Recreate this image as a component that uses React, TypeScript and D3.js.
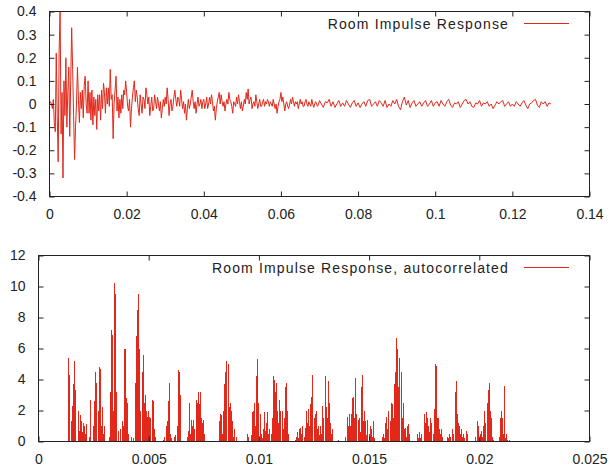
import React, { useRef, useEffect } from 'react';
import * as d3 from 'd3';

// sample periods of the recordings (seconds)
const FINE_DT = 0.00025;
const MID_START = 0.02;
const TAIL_START = 0.07;
const TAIL_DT = 0.0005;
const ACF_START = 0.0013;
const ACF_DT = 0.00005;

// impulse response, first 20 ms
const irEarly = [
  0, 0.01, 0, -0.02, 0.02, -0.08, -0.12, 0.22, -0.05, -0.25,
  0.23, 0.41, -0.13, 0.05, -0.32, 0.1, -0.05, 0.2, -0.1, 0.05,
  0.16, -0.14, 0.1, 0.33, 0.15, -0.05, -0.24, -0.1, 0, 0.16,
  0.02, -0.08, 0.05, -0.02, 0.06, -0.06, 0.08, 0.12, 0, -0.04,
  0.1, -0.04, 0.05, -0.07, 0.06, -0.09, 0.03, -0.05, 0.02, -0.11,
  0.04, -0.03, 0.04, -0.07, 0.06, -0.02, 0.09, 0.05, -0.04, 0.07,
  0, 0.07, -0.01, 0.15, 0.02, 0.04, -0.15, 0, 0.06, 0.12,
  -0.03, 0.03, -0.06, 0.02, -0.04, 0.04, -0.02, 0.06, 0.04, 0.1,
];

// impulse response, 20 ms to 70 ms
const irMid = [
  0.05, -0.01, -0.03, 0.02, -0.1, -0.02, 0.03, 0.07, 0.1, 0.01,
  0.06, 0.03, -0.02, -0.05, 0.04, 0, -0.04, 0.03, 0.02, -0.02,
  0.07, 0.04, 0, 0.03, -0.05, -0.01, 0.03, -0.03, -0.02, 0.04,
  0.01, -0.02, 0.03, 0, -0.03, 0.01, -0.06, -0.02, 0.02, -0.01,
  0.03, 0, 0.07, 0.02, -0.05, 0, 0.02, -0.03, -0.01, 0.03,
  0.06, 0.02, -0.01, 0.03, 0.02, -0.01, 0.06, 0.02, -0.02, 0.01,
  -0.04, 0, -0.07, -0.02, 0.02, -0.02, 0, 0.03, 0.06, 0.01,
  -0.02, 0.01, -0.04, 0, 0.03, -0.01, 0, 0.02, -0.02, 0.01,
  0.02, -0.02, 0, 0.03, -0.02, 0, 0.03, 0, 0.04, 0.01,
  -0.03, -0.01, -0.07, -0.02, 0.01, 0.03, 0.05, 0, 0.04, 0.01,
  -0.01, 0.01, -0.03, 0, 0.02, 0, 0.05, 0.02, 0.01, -0.01,
  -0.04, 0.01, 0, -0.01, 0.03, 0, 0.04, 0.01, -0.02, 0.01,
  -0.03, -0.01, 0.02, 0, 0.05, 0.02, 0.065, 0, 0.02, 0.03,
  -0.02, 0, 0.01, -0.01, 0.04, 0.01, -0.02, 0, 0.02, -0.01,
  -0.01, 0.01, 0.02, -0.01, 0.01, 0, 0.02, 0.01, -0.01, 0.01,
  0, -0.01, 0.02, 0, -0.02, 0, -0.04, -0.01, 0.01, 0.02,
  0.05, 0.01, 0.03, 0, -0.03, 0, 0.01, -0.01, -0.02, 0,
  0.02, 0, 0.03, 0.01, -0.01, 0.01, 0, 0.01, -0.02, 0,
  0.02, 0, 0.01, -0.01, -0.01, 0.01, 0.02, 0, -0.01, 0.01,
  0, -0.01, 0.02, 0, -0.015, 0, 0.01, 0, -0.01, 0,
];

// impulse response, 70 ms to 130 ms
const irTail = [
  0.015, 0, -0.015, 0.01, 0.005, 0.02, -0.01, 0.01, -0.015, 0,
  0.015, -0.01, 0.005, -0.01, 0.015, 0, -0.015, 0.005, 0.015, -0.01,
  0.005, -0.015, 0, 0.01, -0.01, 0.015, 0.02, -0.01, 0, 0.01,
  -0.01, 0.015, 0.005, -0.01, 0.015, -0.015, 0, -0.01, 0.015, 0,
  0.02, -0.01, -0.025, 0.01, 0.03, -0.005, 0.015, -0.015, 0.005, 0.015,
  -0.01, 0, 0.01, -0.01, 0.005, 0.015, -0.01, 0, 0.015, -0.01,
  0.005, 0.01, -0.01, 0.015, 0, -0.01, 0.01, 0.02, -0.005, -0.015,
  0.005, 0, 0.01, -0.015, 0, 0.015, 0.02, 0, 0.01, -0.01,
  -0.015, 0.005, 0, 0.015, -0.01, 0.005, 0, 0.01, -0.01, 0,
  -0.02, -0.005, 0.01, 0, 0.01, 0.015, -0.01, 0, 0.01, -0.01,
  0, -0.01, 0.01, 0, -0.01, 0.005, 0.015, -0.005, -0.02, 0,
  0.005, 0.015, 0.02, -0.005, -0.015, 0.01, 0, 0.01, -0.01, 0.005,
  0,
];

// autocorrelation, from 1.3 ms
const acf = [
  -0.5, 5.4, 4.3, -0.5, 1.3, 2.3, 3.7, 5.2, 3.3, -0.5,
  2.0, 0.7, 1.7, 1.3, 0.6, 1.2, 1.0, 0.5, 1.1, -0.5,
  0.3, 2.7, -0.5, -1, 1.0, 2.6, 4.5, 3.8, 2.0, 4.8,
  4.7, 1.0, 2.2, 0.5, 1.0, -0.5, -1, -1, 0.3, 3.2,
  7.2, 6.9, 2.0, 10.2, 9.5, 3.2, -0.5, 0.7, 0.8, -0.5,
  1.3, 1.0, 6.0, 6.0, 2.8, 2.5, 0.5, -0.5, 0.3, -0.5,
  0.2, -0.5, 3.8, 6.8, 8.5, 9.5, 6.0, 2.0, 4.5, 5.6,
  2.5, 3.0, 2.0, 1.6, 2.0, 1.6, 1.5, 2.7, 2.6, 0.8,
  0.3, -0.5, -1, -1, -1, -1, -1, 0.1, 0.3, -0.5,
  1.0, 1.3, 2.6, 3.8, 0.5, 0.2, -0.5, 0.3, 0.4, -0.5,
  1.0, 4.6, 4.5, 3.0, -0.5, -1, -1, -1, -1, 0.3,
  0.7, 2.5, 0.5, 1.4, 1.0, 1.4, 0.8, 2.7, 2.5, 3.2,
  2.4, 3.2, 1.5, 1.2, 1.4, 0.5, -0.5, -1, -1, -1,
  -1, -1, -1, -1, -1, -1, -1, -0.3, 1.3, 1.8,
  1.7, 0.5, 2.0, 3.7, 4.5, 5.2, 5.0, 2.2, 2.5, 2.0,
  1.3, 0.3, 0.8, -0.3, 0.3, -0.5, -1, -1, -1, -1,
  -1, -1, -0.5, -0.3, 0.5, 0.3, -0.3, 0.4, 1.9, 2.0,
  2.5, 1.0, 4.2, 5.3, 2.5, 1.8, 0.5, 0.2, 0.8, 1.9,
  0.7, 1.2, 1.9, 0.5, 0.8, 0.5, 1.5, 4.2, 4.0, 3.2,
  3.8, 2.0, 1.2, 2.7, 2.0, 2.0, 0.8, 1.5, 3.5, 3.8,
  2.0, 0.5, -0.5, -1, -1, -1, -0.5, 0.1, 0.3, 0.6,
  0.2, 0.8, 0.9, 0.5, 1.0, 0.3, 0.9, 2.0, 1.2, 2.1,
  1.0, 2.4, 2.9, 4.3, 1.5, 1.8, 2.0, 0.8, 1.0, 0.4,
  1.0, 0.5, 2.3, 1.5, 4.2, 2.2, 1.5, 3.9, 2.5, 1.2,
  0.5, 0.8, -0.3, -1, -1, -0.5, 0.1, -0.5, -1, -1,
  -1, -1, -0.5, 0.3, 1.6, 1.0, 1.8, 1.0, 1.8, 2.8,
  2.9, 1.5, 4.1, 1.8, 1.4, 1.5, 0.6, 3.5, 4.3, 1.3,
  2.0, 1.3, 0.4, 1.4, 0.5, 1.0, 0.8, 0.3, 1.3, 0.2,
  -0.5, -1, -1, -0.5, -1, -0.5, 0.3, 0.5, 0.2, 1.2,
  1.6, 0.8, 2.0, 1.3, 2.5, 2.4, 1.5, 3.7, 4.5, 6.7,
  6.0, 3.5, 5.4, 4.5, 1.5, 2.5, 0.8, 0.9, 0.3, 1.0,
  1.1, 0.5, -0.5, -1, -1, -1, -1, -0.5, 0.5, 0.2,
  0.6, 0.2, 0.5, -0.3, 1.8, 1.2, 1.9, 1.5, 1.0, 0.6,
  1.5, 1.2, 0.5, 2.1, 5.0, 4.9, 1.5, 1.5, 0.8, 0.5,
  0.8, 0.3, -0.5, -1, -0.5, 0.3, 0.2, 0.5, 0.3, -0.3,
  0.8, 0.5, 3.2, 3.9, 1.8, 1.2, 1.0, 0.5, 0.8, 0.3,
  0.5, 0.2, 0.7, 0.5, -0.3, -1, -1, -1, -1, -1,
  -0.5, 0.3, 1.3, 1.0, 0.2, 0.5, 0.7, 0.3, 1.0, 2.0,
  1.2, 2.5, 3.3, 3.8, 2.0, 1.5, 0.3, 0.1, -0.5, -1,
  -1, -0.5, 0.3, 1.5, 2.0, 1.5, 0.5, 3.6, 0.2, 0.5,
  0.1, 0.1, 0,
];

const irXTicks = [0, 0.02, 0.04, 0.06, 0.08, 0.1, 0.12, 0.14];
const irYTicks = [-0.4, -0.3, -0.2, -0.1, 0, 0.1, 0.2, 0.3, 0.4];
const acfXTicks = [0, 0.005, 0.01, 0.015, 0.02, 0.025];
const acfYTicks = [0, 2, 4, 6, 8, 10, 12];

const RED = '#e2281a';
const INK = '#222';
const FONT = '"Liberation Sans", Arial, sans-serif';

function drawPanel(svg, p) {
  const x = d3.scaleLinear().domain(p.xDomain).range([p.left, p.right]);
  const y = d3.scaleLinear().domain(p.yDomain).range([p.bottom, p.top]);
  const g = svg.append('g');

  g.append('clipPath').attr('id', p.id)
    .append('rect')
    .attr('x', p.left).attr('y', p.top)
    .attr('width', p.right - p.left).attr('height', p.bottom - p.top);

  const plot = g.append('g').attr('clip-path', `url(#${p.id})`);

  if (p.impulses) {
    // one vertical stroke per sample, from zero up to the value
    plot.selectAll('line')
      .data(p.series.filter(d => d[1] > 0))
      .enter()
      .append('line')
      .attr('x1', d => x(d[0])).attr('x2', d => x(d[0]))
      .attr('y1', y(0)).attr('y2', d => y(d[1]))
      .attr('stroke', RED)
      .attr('stroke-width', 1)
      .attr('shape-rendering', 'crispEdges');
  } else {
    const line = d3.line().x(d => x(d[0])).y(d => y(d[1]));
    plot.append('path')
      .datum(p.series)
      .attr('d', line)
      .attr('fill', 'none')
      .attr('stroke', RED)
      .attr('stroke-width', 1);
  }

  const styleAxis = (a) => {
    a.select('.domain').remove();
    a.selectAll('line').attr('stroke', INK);
    a.selectAll('text')
      .attr('fill', INK)
      .style('font-family', FONT)
      .style('font-size', '14px');
  };

  // axes with inward ticks, mirrored on top and right
  g.append('g')
    .attr('transform', `translate(0,${p.bottom})`)
    .call(d3.axisBottom(x).tickValues(p.xTicks).tickSize(-5).tickPadding(13).tickFormat(d => String(d)))
    .call(styleAxis);
  g.append('g')
    .attr('transform', `translate(0,${p.top})`)
    .call(d3.axisTop(x).tickValues(p.xTicks).tickSize(-5).tickFormat(() => ''))
    .call(styleAxis);
  g.append('g')
    .attr('transform', `translate(${p.left},0)`)
    .call(d3.axisLeft(y).tickValues(p.yTicks).tickSize(-5).tickPadding(13).tickFormat(d => String(d)))
    .call(styleAxis);
  g.append('g')
    .attr('transform', `translate(${p.right},0)`)
    .call(d3.axisRight(y).tickValues(p.yTicks).tickSize(-5).tickFormat(() => ''))
    .call(styleAxis);

  g.append('rect')
    .attr('x', p.left).attr('y', p.top)
    .attr('width', p.right - p.left).attr('height', p.bottom - p.top)
    .attr('fill', 'none')
    .attr('stroke', INK);

  // key
  g.append('text')
    .attr('x', 509)
    .attr('y', p.top + 17)
    .attr('text-anchor', 'end')
    .attr('fill', INK)
    .style('font-family', FONT)
    .style('font-size', '14px')
    .style('letter-spacing', '1.15px')
    .text(p.title);
  g.append('line')
    .attr('x1', 524).attr('x2', 569)
    .attr('y1', p.top + 12).attr('y2', p.top + 12)
    .attr('stroke', RED);
}

export default function App() {
  const svgRef = useRef(null);

  useEffect(() => {
    const svg = d3.select(svgRef.current);
    svg.selectAll('*').remove();

    const irSeries = irEarly.map((v, i) => [i * FINE_DT, v])
      .concat(irMid.map((v, i) => [MID_START + i * FINE_DT, v]))
      .concat(irTail.map((v, k) => [TAIL_START + k * TAIL_DT, v]));
    const acfSeries = acf.map((v, i) => [ACF_START + i * ACF_DT, v]);

    drawPanel(svg, {
      id: 'clip-ir',
      left: 49.5, right: 589.5, top: 11.5, bottom: 196.5,
      xDomain: [0, 0.14], yDomain: [-0.4, 0.4],
      xTicks: irXTicks, yTicks: irYTicks,
      series: irSeries,
      title: 'Room Impulse Response',
    });

    drawPanel(svg, {
      id: 'clip-acf',
      left: 38.5, right: 589.5, top: 255.5, bottom: 441.5,
      xDomain: [0, 0.025], yDomain: [0, 12],
      xTicks: acfXTicks, yTicks: acfYTicks,
      series: acfSeries,
      impulses: true,
      title: 'Room Impulse Response, autocorrelated',
    });
  }, []);

  return (
    <svg
      ref={svgRef}
      width={610}
      height={471}
      style={{ position: 'absolute', left: 0, top: 0, background: '#fff' }}
    />
  );
}
